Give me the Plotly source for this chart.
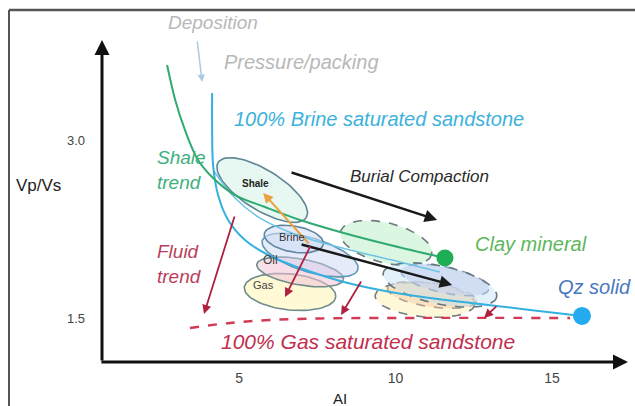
import numpy as np
import plotly.graph_objects as go

# ---------------- data (AI, Vp/Vs) ----------------
shale_x = [2.70, 2.96, 3.27, 3.69, 4.17, 4.87, 5.83, 6.95, 8.23, 9.82, 11.58]
shale_y = [3.631, 3.337, 3.084, 2.831, 2.679, 2.536, 2.435, 2.326, 2.225, 2.115, 2.005]

brine_x = [4.14, 4.14, 4.17, 4.33, 4.65, 5.19, 5.99, 6.95, 8.23, 9.50, 11.10, 12.70, 14.30, 15.96]
brine_y = [3.396, 3.084, 2.789, 2.536, 2.326, 2.157, 2.022, 1.921, 1.812, 1.736, 1.668, 1.618, 1.567, 1.517]

brine2_x = [4.17, 4.87, 5.67, 6.95, 8.55, 10.14, 11.42]
brine2_y = [2.747, 2.511, 2.342, 2.191, 2.073, 1.972, 1.888]

gas_x = [3.43, 4.71, 5.99, 7.59, 10.14, 15.58]
gas_y = [1.416, 1.458, 1.483, 1.496, 1.500, 1.500]

clay_pt = (11.58, 2.005)
qz_pt = (15.96, 1.517)

# ellipses: name, centre x, centre y
ell_names = ["gas", "oil", "blue_big", "brine", "shale", "green_dash", "yellow_dash", "orange", "purple", "blue_dash"]
ell_cx = [6.63, 6.95, 7.27, 6.75, 5.74, 9.70, 10.94, 11.17, 11.58, 11.42]
ell_cy = [1.719, 1.888, 2.030, 2.165, 2.578, 2.132, 1.652, 1.694, 1.820, 1.778]

# arrows: tail -> head
arr_tail_x = [6.63, 6.95, 7.27, 4.87, 7.30, 8.93, 13.27, 3.66]
arr_tail_y = [2.730, 2.123, 2.115, 2.368, 2.115, 1.820, 1.610, 3.842]
arr_head_x = [11.33, 11.81, 5.77, 3.88, 6.47, 8.26, 12.83, 3.82]
arr_head_y = [2.326, 1.778, 2.553, 1.534, 1.677, 1.525, 1.500, 3.488]

x_ticks = [5, 10, 15]
y_ticks = [1.5, 3.0]
y_ticktext = ["1.5", "3.0"]

# ---------------- layout geometry / styles ----------------
XR = [0.62, 17.43]
YR = [1.129, 3.842]
ML, MR, MT, MB = 102, 7, 40, 44
W, H = 635, 406
PW, PH = W - ML - MR, H - MT - MB
sx = PW / (XR[1] - XR[0])
sy = PH / (YR[1] - YR[0])

ell_style = {
    "gas":        dict(a=46, b=18, tilt=6,  fill="rgba(255,246,190,0.65)", line="#6f8c8c", dash="solid"),
    "oil":        dict(a=44, b=13, tilt=10, fill="rgba(240,195,215,0.55)", line="#6f8c8c", dash="solid"),
    "blue_big":   dict(a=50, b=17, tilt=17, fill="rgba(200,210,245,0.45)", line="#5f9ab8", dash="solid"),
    "brine":      dict(a=30, b=13, tilt=10, fill="rgba(205,220,245,0.55)", line="#5f86a0", dash="solid"),
    "shale":      dict(a=52, b=20, tilt=32, fill="rgba(200,240,225,0.45)", line="#5f8694", dash="solid"),
    "green_dash": dict(a=47, b=20, tilt=14, fill="rgba(200,242,210,0.65)", line="#707c80", dash="dash"),
    "yellow_dash":dict(a=50, b=17, tilt=5,  fill="rgba(255,245,195,0.65)", line="#707c80", dash="dash"),
    "orange":     dict(a=45, b=12, tilt=8,  fill="rgba(250,210,175,0.6)",  line="#b0a090", dash="dash"),
    "purple":     dict(a=45, b=13, tilt=12, fill="rgba(205,195,235,0.6)",  line="#8090b0", dash="dash"),
    "blue_dash":  dict(a=58, b=19, tilt=12, fill="rgba(190,225,245,0.45)", line="#607880", dash="dash"),
}

fig = go.Figure()

def ellipse(cx, cy, a, b, tilt):
    t = np.linspace(0, 2 * np.pi, 90)
    ex, ey = a * np.cos(t), b * np.sin(t)
    th = np.radians(tilt)
    dx = ex * np.cos(th) - ey * np.sin(th)
    dy = ex * np.sin(th) + ey * np.cos(th)
    return cx + dx / sx, cy - dy / sy

for n, cx, cy in zip(ell_names, ell_cx, ell_cy):
    st = ell_style[n]
    ex, ey = ellipse(cx, cy, st["a"], st["b"], st["tilt"])
    fig.add_trace(go.Scatter(x=ex, y=ey, mode="lines", fill="toself", fillcolor=st["fill"],
                             line=dict(color=st["line"], width=1.6, dash=st["dash"]),
                             hoverinfo="skip", showlegend=False))

fig.add_trace(go.Scatter(x=brine2_x, y=brine2_y, mode="lines", line=dict(color="#6cc4e4", width=1.5, shape="spline"),
                         showlegend=False, hoverinfo="skip"))
fig.add_trace(go.Scatter(x=brine_x, y=brine_y, mode="lines", line=dict(color="#34b0e0", width=2, shape="spline"),
                         showlegend=False, hoverinfo="skip"))
fig.add_trace(go.Scatter(x=shale_x, y=shale_y, mode="lines", line=dict(color="#2faa70", width=2, shape="spline"),
                         showlegend=False, hoverinfo="skip"))
fig.add_trace(go.Scatter(x=gas_x, y=gas_y, mode="lines", line=dict(color="#d23a55", width=2.4, dash="dash", shape="spline"),
                         showlegend=False, hoverinfo="skip"))
fig.add_trace(go.Scatter(x=[clay_pt[0]], y=[clay_pt[1]], mode="markers",
                         marker=dict(color="#1fae55", size=17), showlegend=False, hoverinfo="skip"))
fig.add_trace(go.Scatter(x=[qz_pt[0]], y=[qz_pt[1]], mode="markers",
                         marker=dict(color="#24aaee", size=18), showlegend=False, hoverinfo="skip"))

arr_colors = ["#1a1a1a", "#1a1a1a", "#eea040", "#b02040", "#b02040", "#b02040", "#b02040", "#a8cce0"]
arr_widths = [2.5, 2.5, 2, 1.8, 1.8, 1.8, 1.8, 1.5]
annotations = []
for tx, ty, hx, hy, c, w in zip(arr_tail_x, arr_tail_y, arr_head_x, arr_head_y, arr_colors, arr_widths):
    annotations.append(dict(x=hx, y=hy, ax=tx, ay=ty, xref="x", yref="y", axref="x", ayref="y",
                            showarrow=True, arrowhead=2, arrowsize=1, arrowwidth=w, arrowcolor=c, text=""))

# axis arrows
annotations.append(dict(x=0, y=1.0, ax=0, ay=0, xref="x domain", yref="y domain", axref="x domain", ayref="y domain",
                        showarrow=True, arrowhead=2, arrowsize=1, arrowwidth=3, arrowcolor="#111", text=""))
annotations.append(dict(x=1.0, y=0, ax=-0.004, ay=0, xref="x domain", yref="y domain", axref="x domain", ayref="y domain",
                        showarrow=True, arrowhead=2, arrowsize=1, arrowwidth=3, arrowcolor="#111", text=""))

F = "Arial, Liberation Sans, sans-serif"
def lab(x, y, text, color, size, xanchor="center", ref="data"):
    d = dict(x=x, y=y, text=text, showarrow=False, font=dict(family=F, size=size, color=color),
             xanchor=xanchor, yanchor="middle", align="left")
    if ref == "paper":
        d.update(xref="paper", yref="paper")
    else:
        d.update(xref="x", yref="y")
    annotations.append(d)

lab((213 - ML) / PW, (H - MB - 22) / PH, "<i>Deposition</i>", "#b8b8b8", 19, ref="paper")
lab(6.98, 3.657, "<i>Pressure/packing</i>", "#b8b8b8", 20)
lab(9.47, 3.176, "<i>100% Brine saturated sandstone</i>", "#3cb2dc", 20)
lab(2.32, 2.747, "<i>Shale<br>trend</i>", "#40b07e", 19, xanchor="left")
lab(10.78, 2.688, "<i>Burial Compaction</i>", "#2a2a2a", 17)
lab(5.51, 2.637, "<b>Shale</b>", "#222", 10)
lab(6.69, 2.182, "Brine", "#333", 11)
lab(5.99, 1.989, "Oil", "#444", 12)
lab(5.77, 1.778, "Gas", "#444", 11)
lab(2.32, 1.955, "<i>Fluid<br>trend</i>", "#b8405a", 19, xanchor="left")
lab(14.33, 2.123, "<i>Clay mineral</i>", "#5cb85a", 20)
lab(16.37, 1.761, "<i>Qz solid</i>", "#4a78c0", 20)
lab(9.12, 1.298, "<i>100% Gas saturated sandstone</i>", "#c03050", 21)
lab((38 - ML) / PW, (H - MB - 185) / PH, "Vp/Vs", "#222", 17, ref="paper")
lab((340 - ML) / PW, (H - MB - 398) / PH, "AI", "#222", 15, ref="paper")

shapes = [
    dict(type="line", xref="paper", yref="paper", x0=(9 - ML) / PW, x1=1.2,
         y0=(H - MB - 10) / PH, y1=(H - MB - 10) / PH, line=dict(color="#555", width=2.5)),
    dict(type="line", xref="paper", yref="paper", x0=(9 - ML) / PW, x1=(9 - ML) / PW,
         y0=(H - MB - 10) / PH, y1=-0.3, line=dict(color="#555", width=2)),
]

fig.update_layout(
    width=W, height=H, margin=dict(l=ML, r=MR, t=MT, b=MB),
    paper_bgcolor="white", plot_bgcolor="white",
    annotations=annotations, shapes=shapes,
    xaxis=dict(range=XR, showgrid=False, zeroline=False, showline=False, tickvals=x_ticks, ticks="",
               tickfont=dict(family=F, size=14, color="#444"), ticklabelstandoff=6),
    yaxis=dict(range=YR, showgrid=False, zeroline=False, showline=False, tickvals=y_ticks, ticktext=y_ticktext,
               ticks="", tickfont=dict(family=F, size=13, color="#444"), ticklabelstandoff=16),
)

fig.write_html("out.html")
